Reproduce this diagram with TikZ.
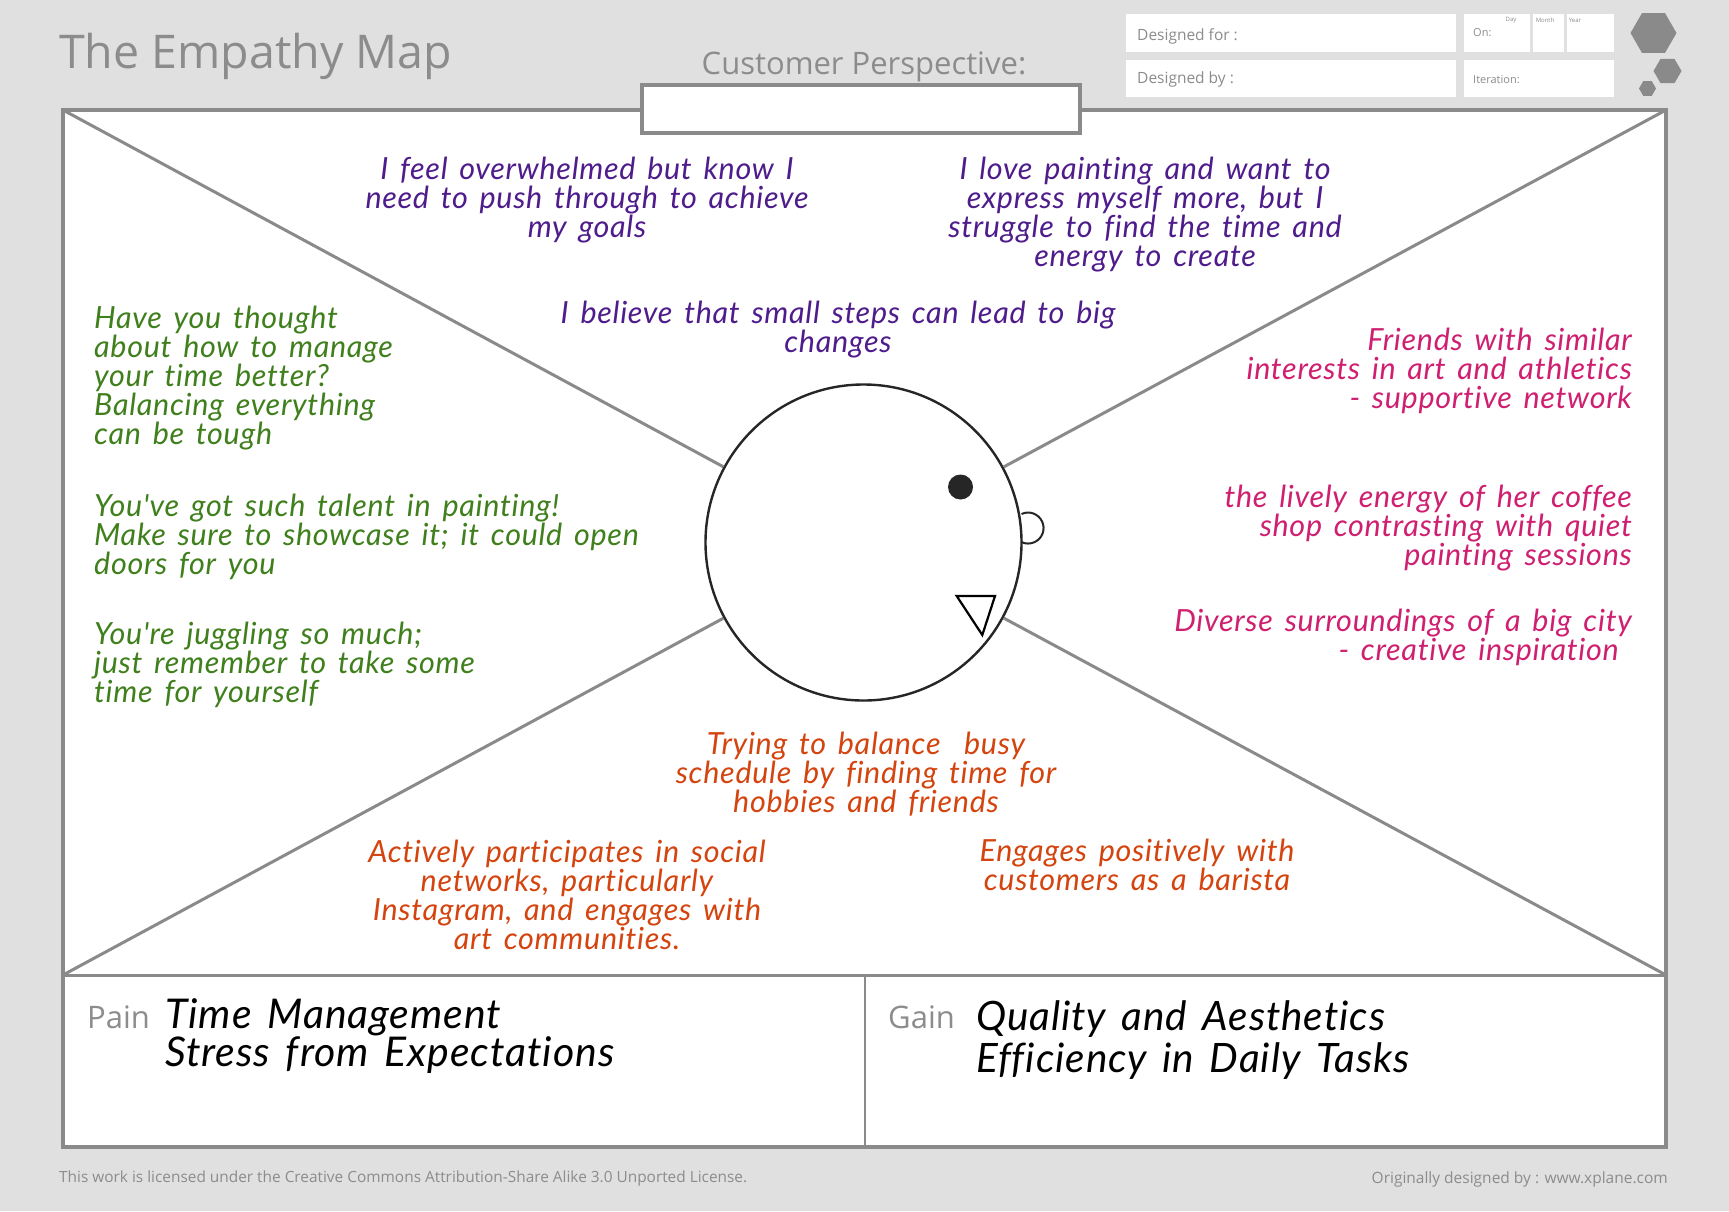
\documentclass[tikz,border=0pt]{standalone}
\usepackage{fontspec}
\usetikzlibrary{shapes.geometric}
\setmainfont{Open Sans}
\newfontfamily\handfont[LetterSpace=2.3,WordSpace=1.5,Ligatures=NoCommon]{Lato}
\definecolor{pagegray}{HTML}{E0E0E0}
\definecolor{framegray}{HTML}{8A8A8A}
\definecolor{labelgray}{HTML}{8C8C8C}
\definecolor{thinkpurple}{HTML}{4F1C8C}
\definecolor{heargreen}{HTML}{3F7F1C}
\definecolor{seepink}{HTML}{CF1F70}
\definecolor{doorange}{HTML}{D4440F}
\tikzset{
    note/.style={inner sep=0pt, align=center, font=\handfont\itshape\fontsize{30.5}{29}\selectfont},
    bignote/.style={inner sep=0pt, anchor=west, align=left, text=black},
    info/.style={fill=white, draw=none, inner sep=0pt, anchor=north west},
    hexa/.style={regular polygon, regular polygon sides=6, fill=framegray, draw=none, inner sep=0pt},
    tag/.style={inner sep=0pt, text=labelgray},
    frameline/.style={draw=framegray, line width=4.5pt},
    cross/.style={draw=framegray, line width=3pt},
}
\begin{document}
\begin{tikzpicture}[x=1pt, y=-1pt]
    \useasboundingbox[fill=pagegray] (0,0) rectangle (1729,1211);
    % header
    \node[tag, anchor=west, font=\fontsize{46.5}{46}\selectfont] (title) at (59,56) {The Empathy Map};
    \node[tag, font=\fontsize{31}{31}\selectfont] (perspective) at (864,67) {Customer Perspective:};
    \node[info, minimum width=330pt, minimum height=38pt] (forbox) at (1126,13.5) {};
    \node[info, minimum width=330pt, minimum height=37pt] (bybox) at (1126,59.5) {};
    \node[info, minimum width=66pt, minimum height=38pt] (onbox) at (1464,13.5) {};
    \node[info, minimum width=31pt, minimum height=38pt] (monthbox) at (1533,13.5) {};
    \node[info, minimum width=47pt, minimum height=38pt] (yearbox) at (1566.5,13.5) {};
    \node[info, minimum width=149.5pt, minimum height=37pt] (iterbox) at (1464,59.5) {};
    \node[tag, anchor=west, font=\fontsize{15.5}{15.5}\selectfont] (forlabel) at (1137,36) {Designed for :};
    \node[tag, anchor=west, font=\fontsize{15.5}{15.5}\selectfont] (bylabel) at (1137,79) {Designed by :};
    \node[tag, anchor=west, font=\fontsize{11}{11}\selectfont] (onlabel) at (1473,33) {On:};
    \node[tag, anchor=west, font=\fontsize{11}{11}\selectfont] (iterlabel) at (1473,80) {Iteration:};
    \node[tag, font=\fontsize{6}{6}\selectfont] (daylabel) at (1511,20) {Day};
    \node[tag, font=\fontsize{6}{6}\selectfont] (monthlabel) at (1545,20) {Month};
    \node[tag, font=\fontsize{6}{6}\selectfont] (yearlabel) at (1575,20) {Year};
    \node[hexa, minimum size=46pt] (hexbig) at (1653.5,33) {};
    \node[hexa, minimum size=28pt] (hexmid) at (1667.5,71) {};
    \node[hexa, minimum size=17pt] (hexsmall) at (1647.5,88.5) {};
    % frame
    \coordinate (tl) at (63,110);
    \coordinate (tr) at (1666,110);
    \coordinate (bl) at (63,975);
    \coordinate (br) at (1666,975);
    \coordinate (fr) at (1666,1147);
    \coordinate (midtop) at (865,975);
    \coordinate (midbot) at (865,1147);
    \fill[white] (tl) rectangle (fr);
    \node[circle, draw=black!85, line width=2.4pt, fill=white, minimum size=316pt, inner sep=0pt] (head) at (863.5,542.5) {};
    \draw[cross] (tl) -- (head);
    \draw[cross] (tr) -- (head);
    \draw[cross] (bl) -- (head);
    \draw[cross] (br) -- (head);
    \draw[frameline] (tl) rectangle (fr);
    \draw[draw=framegray, line width=3pt] (bl) -- (br);
    \draw[draw=framegray, line width=2pt] (midtop) -- (midbot);
    \node[draw=framegray, line width=4.5pt, fill=white, minimum width=438pt, minimum height=48pt, inner sep=0pt] (perspbox) at (861,109) {};
    % face
    \node[circle, fill=black!85, minimum size=25pt, inner sep=0pt] (eye) at (960.5,487) {};
    \draw[black!85, line width=2pt] (1021.5,514) arc (-115:115:15.5);
    \draw[black, line width=2.2pt] (956.7,596) -- (995,596) -- (982.3,635) -- cycle;
    % thinks
    \node[note, text=thinkpurple] (think1) at (587,200) {I feel overwhelmed but know I\\need to push through to achieve\\my goals};
    \node[note, text=thinkpurple] (think2) at (1145,215) {I love painting and want to\\express myself more, but I\\struggle to find the time and\\energy to create};
    \node[note, text=thinkpurple] (think3) at (838,330) {I believe that small steps can lead to big\\changes};
    % hears
    \node[note, text=heargreen, anchor=west, align=left] (hear1) at (94,378) {Have you thought\\about how to manage\\your time better?\\Balancing everything\\can be tough};
    \node[note, text=heargreen, anchor=west, align=left] (hear2) at (94,537) {You've got such talent in painting!\\Make sure to showcase it; it could open\\doors for you};
    \node[note, text=heargreen, anchor=west, align=left] (hear3) at (94,665) {You're juggling so much;\\just remember to take some\\time for yourself};
    % sees
    \node[note, text=seepink, anchor=east, align=right] (see1) at (1632,371) {Friends with similar\\interests in art and athletics\\- supportive network};
    \node[note, text=seepink, anchor=east, align=right] (see2) at (1632,528) {the lively energy of her coffee\\shop contrasting with quiet\\painting sessions};
    \node[note, text=seepink, anchor=east, align=right] (see3) at (1632,637) {Diverse surroundings of a big city\\- creative inspiration\rule{13pt}{0pt}};
    % does
    \node[note, text=doorange] (do1) at (866,774) {Trying to balance\ \ busy\\schedule by finding time for\\hobbies and friends};
    \node[note, text=doorange] (do2) at (567,895) {Actively participates in social\\networks, particularly\\Instagram, and engages with\\art communities.};
    \node[note, text=doorange] (do3) at (1137,865) {Engages positively with\\customers as a barista};
    % pain and gain
    \node[tag, anchor=west, font=\fontsize{31}{31}\selectfont] (painlabel) at (87,1017) {Pain};
    \node[bignote, font=\handfont\itshape\fontsize{41}{38.5}\selectfont] (pain) at (165,1036) {Time Management\\Stress from Expectations};
    \node[tag, anchor=west, font=\fontsize{31}{31}\selectfont] (gainlabel) at (888,1017) {Gain};
    \node[bignote, font=\handfont\itshape\fontsize{40.5}{42}\selectfont] (gain) at (976,1040) {Quality and Aesthetics\\Efficiency in Daily Tasks};
    % footer
    \node[tag, anchor=west, font=\fontsize{15.4}{15.5}\selectfont] (license) at (59,1178) {This work is licensed under the Creative Commons Attribution-Share Alike 3.0 Unported License.};
    \node[tag, anchor=east, font=\fontsize{15.5}{15.5}\selectfont] (credit) at (1668,1179) {Originally designed by : www.xplane.com};
\end{tikzpicture}
\end{document}
